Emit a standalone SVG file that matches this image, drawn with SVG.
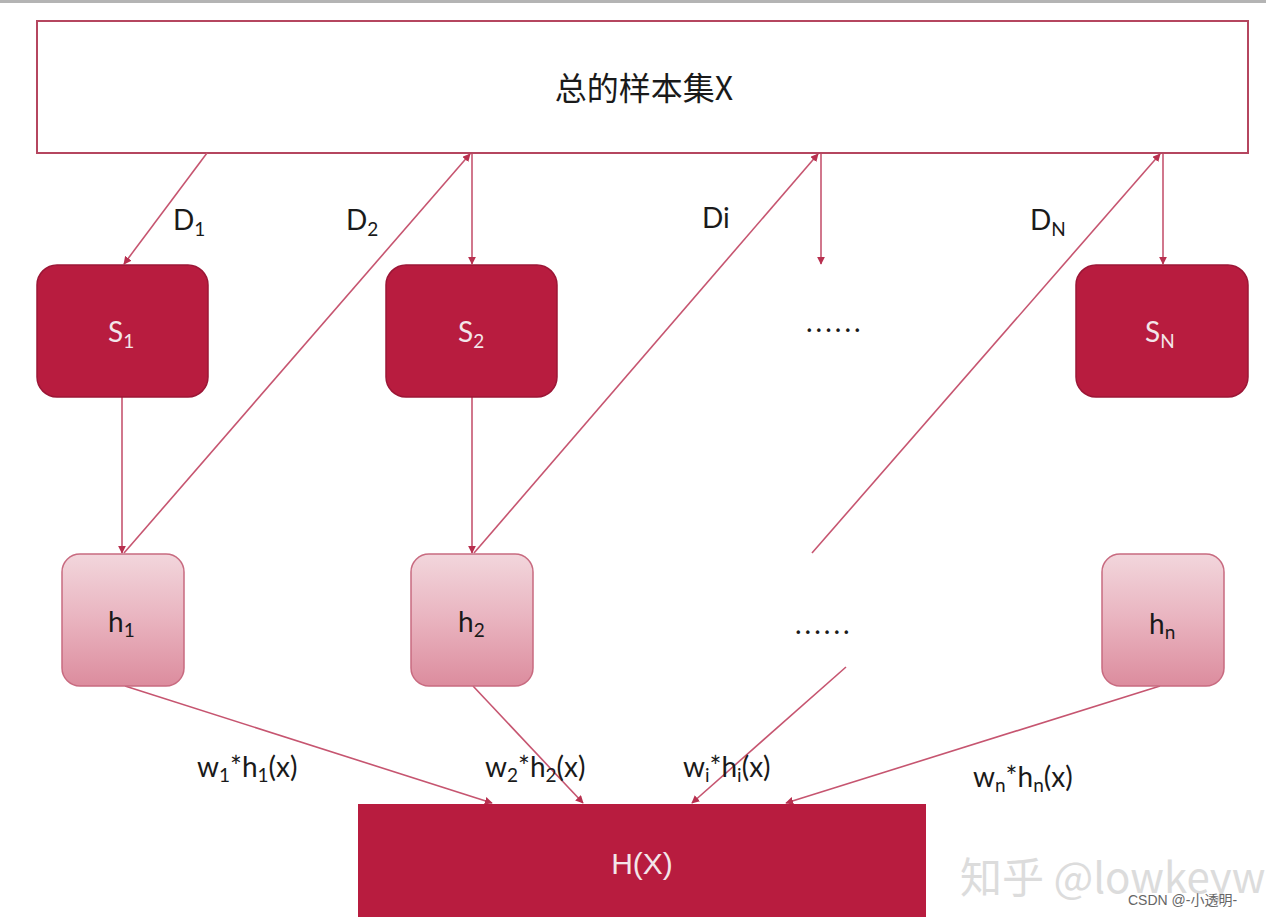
<svg xmlns="http://www.w3.org/2000/svg" width="1266" height="917" viewBox="0 0 1266 917">
<style>
.lbl{font-family:Lato,"Open Sans","Liberation Sans",sans-serif;fill:#1a1a1a;font-size:28px}
.wlbl{font-family:Lato,"Open Sans","Liberation Sans",sans-serif;fill:#f3e6ea;font-size:28px}
.dark{fill:#b81c3f;stroke:#9c1636;stroke-width:1.5}
.light{fill:url(#g);stroke:#c86b80;stroke-width:1.5}
.ca{stroke:#c65570;stroke-width:1.6;fill:none;marker-end:url(#ah)}
</style>
<defs>
<linearGradient id="g" x1="0" y1="0" x2="0" y2="1">
<stop offset="0" stop-color="#f2d6dc"/>
<stop offset="0.5" stop-color="#e9b3bf"/>
<stop offset="1" stop-color="#dc8c9e"/>
</linearGradient>
<marker id="ah" viewBox="0 0 10 10" refX="9" refY="5" markerWidth="8" markerHeight="8" markerUnits="userSpaceOnUse" orient="auto">
<path d="M0,0 L10,5 L0,10 z" fill="#b8304f"/>
</marker>
</defs>
<rect x="0" y="0" width="1266" height="917" fill="#ffffff"/>
<rect x="0" y="0" width="1266" height="3" fill="#b4b4b4"/>

<g id="top">
<rect x="37" y="21" width="1211" height="132" fill="#ffffff" stroke="#b5465f" stroke-width="2"/>
<text x="644" y="100" text-anchor="middle" font-family="'Noto Sans CJK SC',Lato,sans-serif" font-size="32" fill="#1a1a1a">总的样本集X</text>
</g>

<g id="connectors">
<line class="ca" x1="207" y1="153" x2="124" y2="264"/>
<line class="ca" x1="124" y1="553" x2="470" y2="154"/>
<line class="ca" x1="472" y1="154" x2="472" y2="264"/>
<line class="ca" x1="474" y1="553" x2="818" y2="154"/>
<line class="ca" x1="821" y1="154" x2="821" y2="264"/>
<line class="ca" x1="812" y1="553" x2="1160" y2="154"/>
<line class="ca" x1="1163" y1="154" x2="1163" y2="264"/>
<line class="ca" x1="122" y1="397" x2="122" y2="553"/>
<line class="ca" x1="472" y1="397" x2="472" y2="553"/>
<line class="ca" x1="125" y1="686" x2="492" y2="803"/>
<line class="ca" x1="473" y1="686" x2="583" y2="803"/>
<line class="ca" x1="846" y1="667" x2="692" y2="803"/>
<line class="ca" x1="1160" y1="686" x2="786" y2="803"/>
</g>

<g id="S1"><rect class="dark" x="37" y="265" width="171" height="132" rx="20"/>
<text class="wlbl" x="108" y="342">S<tspan font-size="19" dy="6">1</tspan></text></g>
<g id="S2"><rect class="dark" x="386" y="265" width="171" height="132" rx="20"/>
<text class="wlbl" x="458" y="342">S<tspan font-size="19" dy="6">2</tspan></text></g>
<g id="SN"><rect class="dark" x="1076" y="265" width="172" height="132" rx="20"/>
<text class="wlbl" x="1145" y="342">S<tspan font-size="19" dy="6">N</tspan></text></g>

<g id="h1"><rect class="light" x="62" y="554" width="122" height="132" rx="18"/>
<text class="lbl" x="108" y="632">h<tspan font-size="19" dy="5">1</tspan></text></g>
<g id="h2"><rect class="light" x="411" y="554" width="122" height="132" rx="18"/>
<text class="lbl" x="458" y="632">h<tspan font-size="19" dy="5">2</tspan></text></g>
<g id="hn"><rect class="light" x="1102" y="554" width="122" height="132" rx="18"/>
<text class="lbl" x="1149" y="634">h<tspan font-size="19" dy="5">n</tspan></text></g>

<g id="HX"><rect x="358" y="804" width="568" height="120" fill="#b81c3f"/>
<text x="642" y="874" text-anchor="middle" font-family="'Liberation Sans',sans-serif" font-size="30" fill="#f3e6ea">H(X)</text></g>

<g id="labels">
<text class="lbl" x="173" y="230">D<tspan font-size="19" dy="6">1</tspan></text>
<text class="lbl" x="346" y="230">D<tspan font-size="19" dy="6">2</tspan></text>
<text class="lbl" x="702" y="228">Di</text>
<text class="lbl" x="1030" y="230">D<tspan font-size="19" dy="6">N</tspan></text>
<text class="lbl" x="806" y="332" letter-spacing="3">......</text>
<text class="lbl" x="795" y="634" letter-spacing="3">......</text>
<text class="lbl" x="197" y="777">w<tspan font-size="19" dy="5">1</tspan><tspan dy="-5">*h</tspan><tspan font-size="19" dy="5">1</tspan><tspan dy="-5">(x)</tspan></text>
<text class="lbl" x="485" y="777">w<tspan font-size="19" dy="5">2</tspan><tspan dy="-5">*h</tspan><tspan font-size="19" dy="5">2</tspan><tspan dy="-5">(x)</tspan></text>
<text class="lbl" x="683" y="777">w<tspan font-size="19" dy="5">i</tspan><tspan dy="-5">*h</tspan><tspan font-size="19" dy="5">i</tspan><tspan dy="-5">(x)</tspan></text>
<text class="lbl" x="973" y="787">w<tspan font-size="19" dy="5">n</tspan><tspan dy="-5">*h</tspan><tspan font-size="19" dy="5">n</tspan><tspan dy="-5">(x)</tspan></text>
</g>

<g id="watermarks">
<text x="960" y="893" font-family="'Noto Sans CJK SC',sans-serif" font-size="42" fill="#dcdcdc">知乎 @lowkeywa</text>
<text x="1128" y="905" font-family="'Liberation Sans','Noto Sans CJK SC',sans-serif" font-size="14" fill="#666666">CSDN @-小透明-</text>
</g>
</svg>
